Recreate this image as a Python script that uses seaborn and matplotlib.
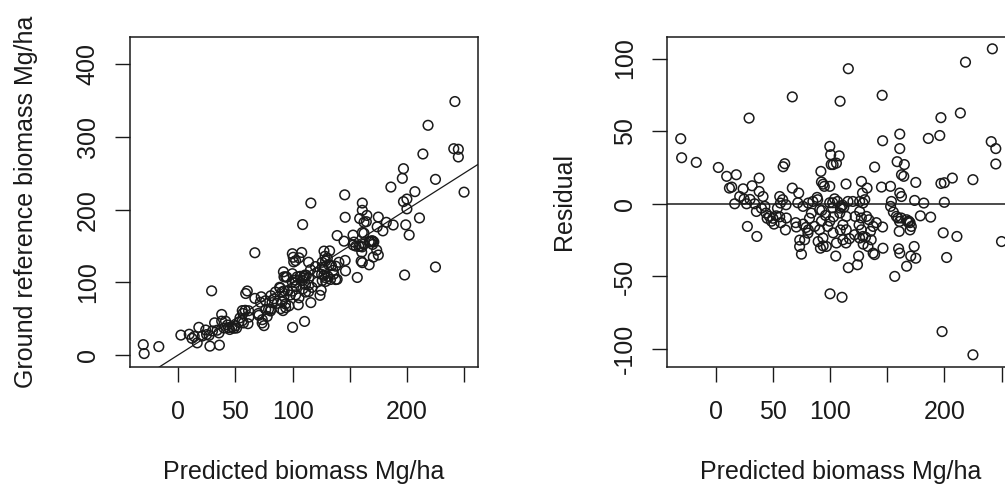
import matplotlib
matplotlib.use("Agg")
import matplotlib.pyplot as plt
import seaborn as sns
import pandas as pd

# ---- data (Mg/ha) ----
predicted = [
    -30.6, -29.8, -17.0, 2.3, 9.6, 18.0, 12.0, 14.0, 16.6, 24.0, 24.8, 27.0, 27.7, 36.0, 31.8, 38.0, 38.0,
    41.4, 34.0, 35.6, 43.0, 44.0, 47.0, 50.0, 53.0, 48.7, 56.0, 57.0, 29.2, 56.0, 56.6, 54.0, 45.0, 51.0,
    40.0, 30.0, 21.0, 60.4, 59.0, 61.5, 61.0, 58.6, 67.0, 72.6, 70.0, 61.8, 70.5, 73.5, 75.0, 76.4, 71.8,
    79.0, 81.0, 81.0, 85.0, 83.7, 88.7, 89.2, 86.6, 89.6, 92.0, 92.5, 94.0, 95.0, 92.8, 92.5, 91.6, 94.0,
    67.0, 76.5, 80.7, 77.8, 90.9, 93.8, 96.8, 73.4, 90.9, 82.0, 99.8, 100.6, 101.0, 102.7, 108.0, 105.6,
    99.8, 99.8, 98.0, 102.7, 104.0, 105.6, 105.0, 110.0, 111.0, 109.0, 112.0, 108.5, 109.0, 114.0, 114.0,
    117.0, 116.0, 124.0, 125.0, 120.0, 122.0, 125.4, 127.5, 128.4, 130.4, 132.4, 129.0, 132.0, 134.0,
    135.4, 136.0, 137.7, 139.0, 137.7, 139.0, 140.5, 116.0, 108.8, 100.0, 110.5, 99.7, 102.3, 106.6,
    102.3, 115.7, 125.9, 114.2, 127.4, 111.3, 114.2, 111.3, 127.4, 125.9, 131.0, 121.5, 103.0, 96.0,
    128.8, 125.9, 133.2, 128.8, 145.6, 146.0, 161.0, 161.0, 145.0, 146.0, 146.3, 152.9, 153.7, 153.0,
    155.4, 158.0, 158.7, 160.5, 161.0, 162.5, 161.0, 156.6, 162.5, 165.0, 164.5, 167.0, 169.0, 170.0,
    168.0, 170.0, 167.0, 173.6, 175.0, 174.0, 175.0, 170.6, 179.0, 182.0, 188.0, 186.0, 196.0, 197.0,
    214.0, 197.0, 200.0, 207.0, 200.0, 199.0, 211.0, 202.0, 198.0, 225.0, 225.0, 218.5, 242.0, 241.0,
    245.0, 245.0, 250.0, 159.4, 162.3, 171.1, 160.8, 160.0,
]
observed = [
    14.2, 1.9, 11.5, 27.3, 28.5, 38.0, 22.8, 25.5, 16.6, 34.3, 28.0, 27.0, 12.1, 13.5, 44.2, 55.7, 46.5,
    46.4, 34.0, 30.3, 41.2, 37.6, 38.3, 40.0, 44.7, 36.7, 47.0, 44.0, 88.2, 61.0, 57.1, 51.0, 35.0, 37.0,
    37.0, 33.0, 26.0, 88.0, 84.5, 60.8, 43.0, 61.4, 77.8, 80.0, 57.0, 52.0, 54.5, 48.5, 40.3, 74.6, 72.5,
    62.7, 63.0, 81.5, 86.6, 77.3, 93.1, 92.0, 71.0, 63.6, 114.3, 107.5, 107.5, 107.0, 88.2, 80.5, 61.0, 65.0,
    140.6, 62.5, 60.5, 53.0, 73.0, 70.2, 67.4, 44.0, 86.8, 72.0, 139.3, 134.4, 128.0, 129.7, 141.0, 133.6,
    111.8, 87.8, 82.4, 82.7, 107.4, 78.6, 69.0, 108.0, 110.0, 106.0, 109.5, 102.1, 91.0, 87.0, 127.6,
    93.0, 72.0, 82.0, 89.0, 121.6, 113.3, 110.9, 142.9, 135.8, 133.2, 143.2, 101.2, 123.3, 123.0,
    116.4, 111.2, 103.7, 104.0, 122.1, 164.3, 127.5, 209.0, 179.4, 38.0, 46.1, 100.4, 103.0, 108.2,
    99.5, 117.3, 127.5, 105.5, 117.6, 96.8, 96.3, 86.5, 109.5, 102.3, 108.0, 100.2, 94.0, 88.0,
    129.3, 120.6, 103.8, 106.3, 220.3, 189.4, 209.0, 199.0, 156.5, 130.0, 115.7, 164.9, 155.3, 151.2,
    149.7, 149.3, 187.7, 141.5, 168.4, 167.5, 127.0, 106.6, 182.5, 192.0, 183.4, 156.0, 157.0, 157.0,
    155.5, 152.0, 124.0, 144.2, 189.7, 176.3, 137.5, 134.6, 170.7, 182.5, 178.8, 231.0, 243.0, 256.3,
    276.5, 211.0, 214.5, 224.7, 201.0, 179.0, 188.5, 165.0, 110.0, 121.0, 241.6, 316.0, 348.7, 283.8,
    283.0, 272.4, 224.0, 149.6, 152.5, 155.5, 148.6, 129.0,
]
residual = [
    44.8, 31.7, 28.5, 25.0, 18.9, 20.0, 10.8, 11.5, 0.0, 10.3, 3.2, 0.0, -15.6, -22.5, 12.4, 17.7, 8.5,
    5.0, 0.0, -5.3, -1.8, -6.4, -8.7, -10.0, -8.3, -12.0, -9.0, -13.0, 59.0, 5.0, 0.5, -3.0, -10.0, -14.0,
    -3.0, 3.0, 5.0, 27.6, 25.5, -0.7, -18.0, 2.8, 10.8, 7.4, -13.0, -9.8, -16.0, -25.0, -34.7, -1.8, 0.7,
    -16.3, -18.0, 0.5, 1.6, -6.4, 4.4, 2.8, -15.6, -26.0, 22.3, 15.0, 13.5, 12.0, -4.6, -12.0, -30.6, -29.0,
    73.6, -14.0, -20.2, -24.8, -17.9, -23.6, -29.4, -29.4, -4.1, -10.0, 39.5, 33.8, 27.0, 27.0, 33.0, 28.0,
    12.0, -12.0, -15.6, -20.0, 3.4, -27.0, -36.0, -2.0, -1.0, -3.0, -2.5, -6.4, -18.0, -27.0, 13.6,
    -24.0, -44.0, -42.0, -36.0, 1.6, -8.7, -14.5, 15.4, 7.4, 2.8, 10.8, -27.8, -8.7, -11.0,
    -19.0, -24.8, -34.0, -35.0, -15.6, 25.3, -13.0, 93.0, 70.6, -62.0, -64.4, 0.7, 0.7, 1.6,
    -2.8, 1.6, 1.6, -8.7, -9.8, -14.5, -17.9, -24.8, -17.9, -23.6, -23.0, -21.3, -9.0, -8.0,
    0.5, -5.3, -29.4, -22.5, 74.7, 43.4, 48.0, 38.0, 11.5, -16.0, -30.6, 12.0, 1.6, -1.8,
    -5.7, -8.7, 29.0, -19.0, 7.4, 5.0, -34.0, -50.0, 20.0, 27.0, 18.9, -11.0, -12.0, -13.0,
    -12.5, -18.0, -43.0, -29.4, 14.7, 2.3, -37.5, -36.0, -8.3, 0.5, -9.2, 45.0, 47.0, 59.3,
    62.5, 14.0, 14.5, 17.7, 1.0, -20.0, -22.5, -37.0, -88.0, -104.0, 16.6, 97.5, 106.7, 42.8,
    38.0, 27.4, -26.0, -9.8, -9.8, -15.6, -12.2, -31.0,
]
fit_intercept = 0.0   # 1:1 reference line
fit_slope = 1.0

x_ticks = [0, 50, 100, 150, 200, 250]
x_tick_labels = ["0", "50", "100", "", "200", ""]
left_y_ticks = [0, 100, 200, 300, 400]
right_y_ticks = [-100, -50, 0, 50, 100]

df = pd.DataFrame({"pred": predicted, "obs": observed, "res": residual})

sns.set_style("white")
plt.rcParams["font.family"] = ["Liberation Sans", "DejaVu Sans"]

INK = "#1a1a1a"
FS = 18

fig = plt.figure(figsize=(10.05, 4.95), dpi=100)
fig.patch.set_facecolor("white")
ax1 = fig.add_axes([130 / 1005, 0.258, 348 / 1005, 0.668])
ax2 = fig.add_axes([667 / 1005, 0.258, 348 / 1005, 0.668])

scat_kw = dict(s=48, facecolors="none", edgecolors=INK, linewidths=1.1, marker="o", legend=False)
sns.scatterplot(data=df, x="pred", y="obs", ax=ax1, **scat_kw)
sns.scatterplot(data=df, x="pred", y="res", ax=ax2, **scat_kw)

ax1.axline((0, fit_intercept), slope=fit_slope, color=INK, lw=0.9)
ax2.axhline(0, color=INK, lw=1.1)

ax1.set_xlim(-42.2, 262.2)
ax1.set_ylim(-17, 438)
ax2.set_xlim(-42.6, 261.8)
ax2.set_ylim(-112.6, 115.1)

for ax, yt in ((ax1, left_y_ticks), (ax2, right_y_ticks)):
    ax.set_xticks(x_ticks)
    ax.set_xticklabels(x_tick_labels)
    ax.set_yticks(yt)
    ax.set_yticklabels([str(v) for v in yt], rotation=90, va="center")
    ax.tick_params(axis="both", direction="out", length=10.8, width=1.0, color=INK,
                   labelsize=FS, labelcolor=INK, left=True, bottom=True)
    ax.tick_params(axis="x", pad=13)
    ax.tick_params(axis="y", pad=11)
    for sp in ax.spines.values():
        sp.set_visible(True)
        sp.set_color(INK)
        sp.set_linewidth(1.1)
    ax.set_facecolor("white")
    ax.set_xlabel("Predicted biomass Mg/ha", fontsize=FS, color=INK)
    ax.xaxis.set_label_coords(0.5, -0.28)

ax1.set_ylabel("Ground reference biomass Mg/ha", fontsize=FS, color=INK)
ax1.yaxis.set_label_coords(-0.263, 0.5)
ax2.set_ylabel("Residual", fontsize=FS, color=INK)
ax2.yaxis.set_label_coords(-0.261, 0.5)

fig.savefig("out.png", dpi=100, facecolor="white")
